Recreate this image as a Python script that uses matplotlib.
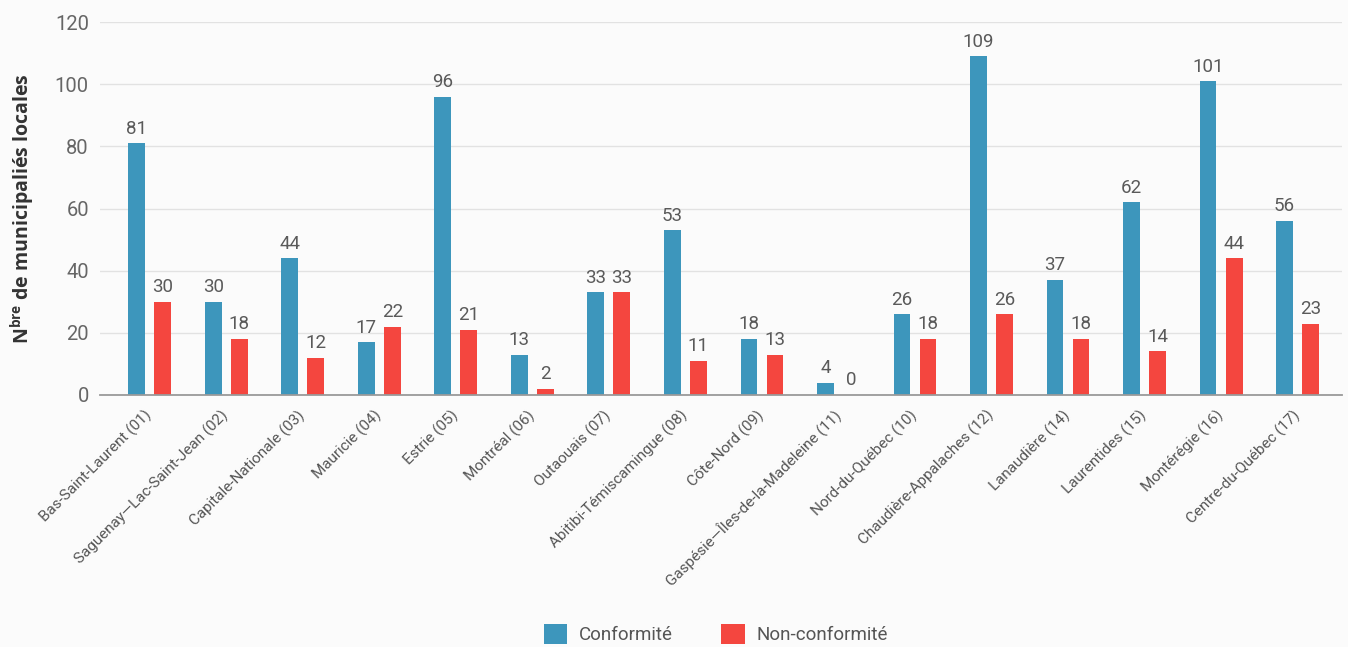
import matplotlib
matplotlib.use("Agg")
import matplotlib.pyplot as plt
from matplotlib.patches import Patch
import numpy as np

regions = [
    "Bas-Saint-Laurent (01)",
    "Saguenay\u2014Lac-Saint-Jean (02)",
    "Capitale-Nationale (03)",
    "Mauricie (04)",
    "Estrie (05)",
    "Montréal (06)",
    "Outaouais (07)",
    "Abitibi-Témiscamingue (08)",
    "Côte-Nord (09)",
    "Gaspésie\u2014Îles-de-la-Madeleine (11)",
    "Nord-du-Québec (10)",
    "Chaudière-Appalaches (12)",
    "Lanaudière (14)",
    "Laurentides (15)",
    "Montérégie (16)",
    "Centre-du-Québec (17)",
]
conformite = [81, 30, 44, 17, 96, 13, 33, 53, 18, 4, 26, 109, 37, 62, 101, 56]
non_conformite = [30, 18, 12, 22, 21, 2, 33, 11, 13, 0, 18, 26, 18, 14, 44, 23]
yticks = [0, 20, 40, 60, 80, 100, 120]
series_names = ["Conformité", "Non-conformité"]

BLUE = "#3d96bc"
RED = "#f4463f"
BG = "#fbfbfb"

plt.rcParams["font.family"] = ["Roboto", "DejaVu Sans"]
plt.rcParams["mathtext.fontset"] = "custom"
plt.rcParams["mathtext.rm"] = "Open Sans:bold"
plt.rcParams["mathtext.bf"] = "Open Sans:bold"

fig = plt.figure(figsize=(13.48, 6.47), dpi=100, facecolor=BG)
ax = fig.add_axes([100 / 1348, 1 - 395 / 647, (1342 - 100) / 1348, (395 - 22) / 647])
ax.set_facecolor(BG)

x = np.arange(len(regions))
w = 0.22
off = 0.17
b1 = ax.bar(x - off, conformite, w, color=BLUE, zorder=3)
b2 = ax.bar(x + off, non_conformite, w, color=RED, zorder=3)
for b in (b1, b2):
    ax.bar_label(b, padding=4, fontsize=13.5, color="#5a5a5a")

ax.set_ylim(0, 120)
ax.set_xlim(-0.65, len(regions) - 1 + 0.58)
ax.set_yticks(yticks)
ax.set_yticklabels([str(t) for t in yticks], fontsize=14.5, color="#666666")
ax.tick_params(axis="y", length=0, pad=8)
ax.yaxis.grid(True, color="#e2e2e2", linewidth=1.0, zorder=0)
ax.set_axisbelow(True)

ax.set_xticks(x)
ax.set_xticklabels(regions, rotation=45, ha="right", va="center",
                   rotation_mode="anchor", fontsize=11, color="#555555")
ax.tick_params(axis="x", length=0, pad=13)

for s in ("top", "right", "left"):
    ax.spines[s].set_visible(False)
ax.spines["bottom"].set_color("#9a9a9a")
ax.spines["bottom"].set_linewidth(1.3)
ax.spines["bottom"].set_zorder(4)

ax.set_ylabel("N$^{\\mathrm{bre}}$ de municipaliés locales", family="Open Sans",
              fontweight="bold", fontsize=14, color="#333333")
ax.yaxis.set_label_coords(-0.051, 0.5)

handles = [Patch(facecolor=BLUE), Patch(facecolor=RED)]
fig.legend(handles, series_names, loc="center", bbox_to_anchor=(0.531, 0.02),
           ncol=2, frameon=False, fontsize=13.5, handlelength=1.25, handleheight=1.25,
           handletextpad=0.6, columnspacing=2.6, labelcolor="#555555")

fig.savefig("out.png", dpi=100, facecolor=BG)
